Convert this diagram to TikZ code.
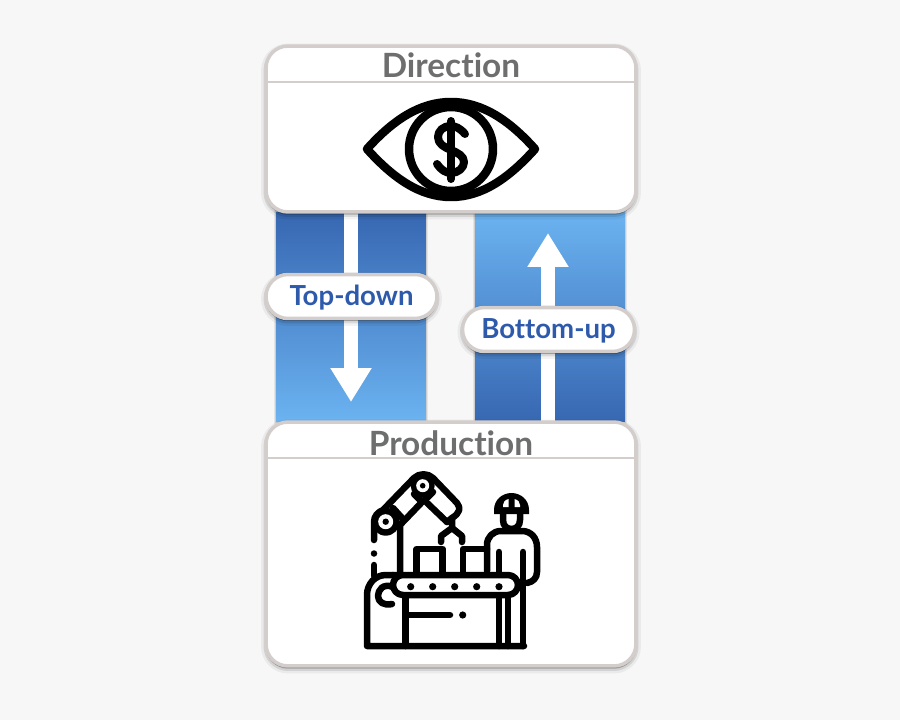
\documentclass[tikz,border=0pt]{standalone}
\usepackage{fontspec}
\setmainfont{Lato}[Ligatures=NoCommon]
\usetikzlibrary{shadows,arrows.meta}
\definecolor{pageGray}{HTML}{F7F7F7}
\definecolor{cardEdge}{HTML}{D3CECC}
\definecolor{titleGray}{HTML}{6E6E6E}
\definecolor{pillBlue}{HTML}{2E5AAC}
\definecolor{barDark}{HTML}{3767B1}
\definecolor{barLight}{HTML}{6BB3F1}

\begin{document}
\begin{tikzpicture}
    [x = 0.02cm, y = -0.02cm,
     softShadow/.style = {general shadow = {fill = black, draw = black, line width = 0.20cm, opacity = 0.05, shadow yshift = -0.05cm},
                          general shadow = {fill = black, draw = black, line width = 0.10cm, opacity = 0.10, shadow yshift = -0.05cm},
                          general shadow = {fill = black, draw = black, line width = 0.03cm, opacity = 0.15, shadow yshift = -0.04cm}},
     cardNode/.style = {rectangle, rounded corners = 0.44cm, draw = cardEdge, line width = 0.07cm, fill = white,
                        inner sep = 0pt, minimum width = 7.4cm, softShadow},
     pillNode/.style = {rectangle, rounded corners = 0.44cm, draw = cardEdge, line width = 0.07cm, fill = white,
                        inner sep = 0pt, minimum height = 0.88cm, softShadow},
     pillText/.style = {inner sep = 0pt, font = \fontsize{15.7pt}{18pt}\selectfont\bfseries, text = pillBlue},
     barNode/.style = {rectangle, inner sep = 0pt, minimum width = 3cm, minimum height = 4.2cm,
                       general shadow = {fill = black, draw = black, line width = 0.10cm, opacity = 0.07},
                       general shadow = {fill = black, draw = black, line width = 0.04cm, opacity = 0.10}},
     titleNode/.style = {inner sep = 0pt, font = \fontsize{19pt}{22pt}\selectfont\bfseries, text = titleGray},
     cardRule/.style = {draw = cardEdge, line width = 0.045cm},
     flowArrow/.style = {draw = white, line width = 0.27cm, -{Triangle[width = 0.78cm, length = 0.68cm]}},
     iconLine/.style = {draw = black, line width = 0.13cm, line cap = round, line join = round},
     eyeLine/.style = {draw = black, line width = 0.17cm, line cap = round, line join = round},
     iconDot/.style = {fill = black}]

    \fill [pageGray] (0,0) rectangle (900,720);

    \node at (351,317) [barNode, top color = barDark, bottom color = barLight] (topBar) {};
    \node at (550,317) [barNode, top color = barLight, bottom color = barDark] (bottomBar) {};

    \coordinate (topStart) at (351,212);
    \coordinate (topEnd) at (351,402);
    \coordinate (bottomStart) at (548,422);
    \coordinate (bottomEnd) at (548,233);
    \draw [flowArrow] (topStart) -- (topEnd);
    \draw [flowArrow] (bottomStart) -- (bottomEnd);

    \node at (351.5,296.5) [pillNode, minimum width = 3.42cm] (topPill) {};
    \node at (548.5,329.5) [pillNode, minimum width = 3.44cm] (bottomPill) {};
    \node at (351.5,298) [pillText] (topLabel) {Top-down};
    \node at (548.5,331) [pillText] (bottomLabel) {Bottom-up};

    \node at (451,129) [cardNode, minimum height = 3.32cm] (direction) {};
    \node at (451,544) [cardNode, minimum height = 4.88cm] (production) {};

    \node at (451,65) [titleNode] (directionTitle) {Direction};
    \node at (451,443) [titleNode] (productionTitle) {Production};

    \coordinate (directionRuleL) at (266,82);
    \coordinate (directionRuleR) at (636,82);
    \coordinate (productionRuleL) at (266,458);
    \coordinate (productionRuleR) at (636,458);
    \draw [cardRule] (directionRuleL) -- (directionRuleR);
    \draw [cardRule] (productionRuleL) -- (productionRuleR);

    % eye
    \draw [eyeLine] (367,149) .. controls (393,120) and (420,102) .. (451,102)
                    .. controls (482,102) and (509,120) .. (535,149)
                    .. controls (509,178) and (482,197) .. (451,197)
                    .. controls (420,197) and (393,178) .. (367,149) -- cycle;
    \draw [eyeLine] (451,149) circle [radius = 42];
    \draw [iconLine, line width = 0.16cm] (451,121) -- (451,179);
    \draw [iconLine, line width = 0.16cm] (465,134) .. controls (460,128) and (455,126) .. (451,126)
                    .. controls (443,126) and (438,131) .. (438,137)
                    .. controls (438,144) and (444,147) .. (451,150)
                    .. controls (458,153) and (464,156) .. (464,162)
                    .. controls (464,168) and (458,173) .. (451,173)
                    .. controls (446,173) and (441,170) .. (437,164);

    % machine
    \draw [iconLine] (393,575) -- (508,575) .. controls (514,575) and (518,580) .. (518,585)
                     .. controls (518,590) and (514,595) .. (508,595) -- (403,595)
                     .. controls (397,595) and (393,590) .. (393,585)
                     .. controls (393,580) and (397,575) .. (403,575);
    \foreach \dotX in {410.7,432.7,454.7,476.7,499}
        \fill [iconDot] (\dotX,586.7) circle [radius = 3.6];
    \draw [iconLine] (393,575) -- (386,575) .. controls (375,575) and (367,584) .. (367,595)
                     -- (367,646) -- (524,646);
    \draw [iconLine] (393,587) .. controls (383,583) and (378,590) .. (378,596)
                     .. controls (378,602) and (384,606) .. (392,604);
    \draw [iconLine] (405.7,597) -- (405.7,646);
    \draw [iconLine] (408,615) -- (450,615);
    \fill [iconDot] (462.7,615) circle [radius = 3.6];

    % boxes
    \draw [iconLine] (416.7,574) -- (416.7,549) -- (442.7,549) -- (442.7,574);
    \draw [iconLine] (463,574) -- (463,549) -- (487,549);

    % robot arm
    \draw [iconLine] (400,574) -- (400,525) -- (424,500) -- (447,522);
    \draw [iconLine] (374,540) -- (374,522) .. controls (374,516) and (378,512) .. (383,510)
                     -- (414,478) .. controls (419,473) and (428,473) .. (433,478)
                     -- (457,503) .. controls (461,508) and (460,513) .. (452,518) -- (447,522);
    \draw [iconLine] (374,553.5) -- (374,553.5);
    \draw [iconLine] (374,565) -- (374,576);
    \draw [iconLine] (393,508) -- (403,519);
    \draw [iconLine] (414,494) -- (420,500);
    \draw [iconLine] (433,492) -- (427,498);
    \fill [iconDot] (385.7,521.7) circle [radius = 14];
    \fill [white] (385.7,521.7) circle [radius = 7.5];
    \fill [iconDot] (385.7,521.7) circle [radius = 3.2];
    \fill [iconDot] (422.7,485.7) circle [radius = 12];
    \fill [white] (422.7,485.7) circle [radius = 6.5];
    \fill [iconDot] (422.7,485.7) circle [radius = 2.8];
    \draw [iconLine] (452,518) -- (452,528) -- (441,536) -- (441,542);
    \draw [iconLine] (452,528) -- (462,536) -- (462,542);

    % worker
    \fill [iconDot] (494,514) -- (494,510) .. controls (494,500) and (502,493) .. (511.5,493)
                    .. controls (521,493) and (529,500) .. (529,510) -- (529,514) -- cycle;
    \fill [white] (503,507) -- (503,505) .. controls (503,502) and (505,500) .. (508.5,499) -- (508.5,507) -- cycle;
    \fill [white] (520,507) -- (520,505) .. controls (520,502) and (518,500) .. (514.5,499) -- (514.5,507) -- cycle;
    \draw [iconLine] (503,512) -- (503,520) .. controls (503,526) and (507,529) .. (511.5,529)
                     .. controls (516,529) and (520,526) .. (520,520) -- (520,512);
    \draw [iconLine] (487,571) -- (487,545) .. controls (487,537) and (493,531) .. (501,531)
                     -- (522,531) .. controls (531,531) and (537,538) .. (537,547)
                     -- (537,572) .. controls (537,578) and (533,582) .. (527,583);
    \draw [iconLine] (499,552) -- (499,572);
    \draw [iconLine] (523,552) -- (523,646);
    \draw [iconLine] (499,597) -- (499,646);
    \draw [iconLine] (508,597) -- (508,646);
\end{tikzpicture}
\end{document}
